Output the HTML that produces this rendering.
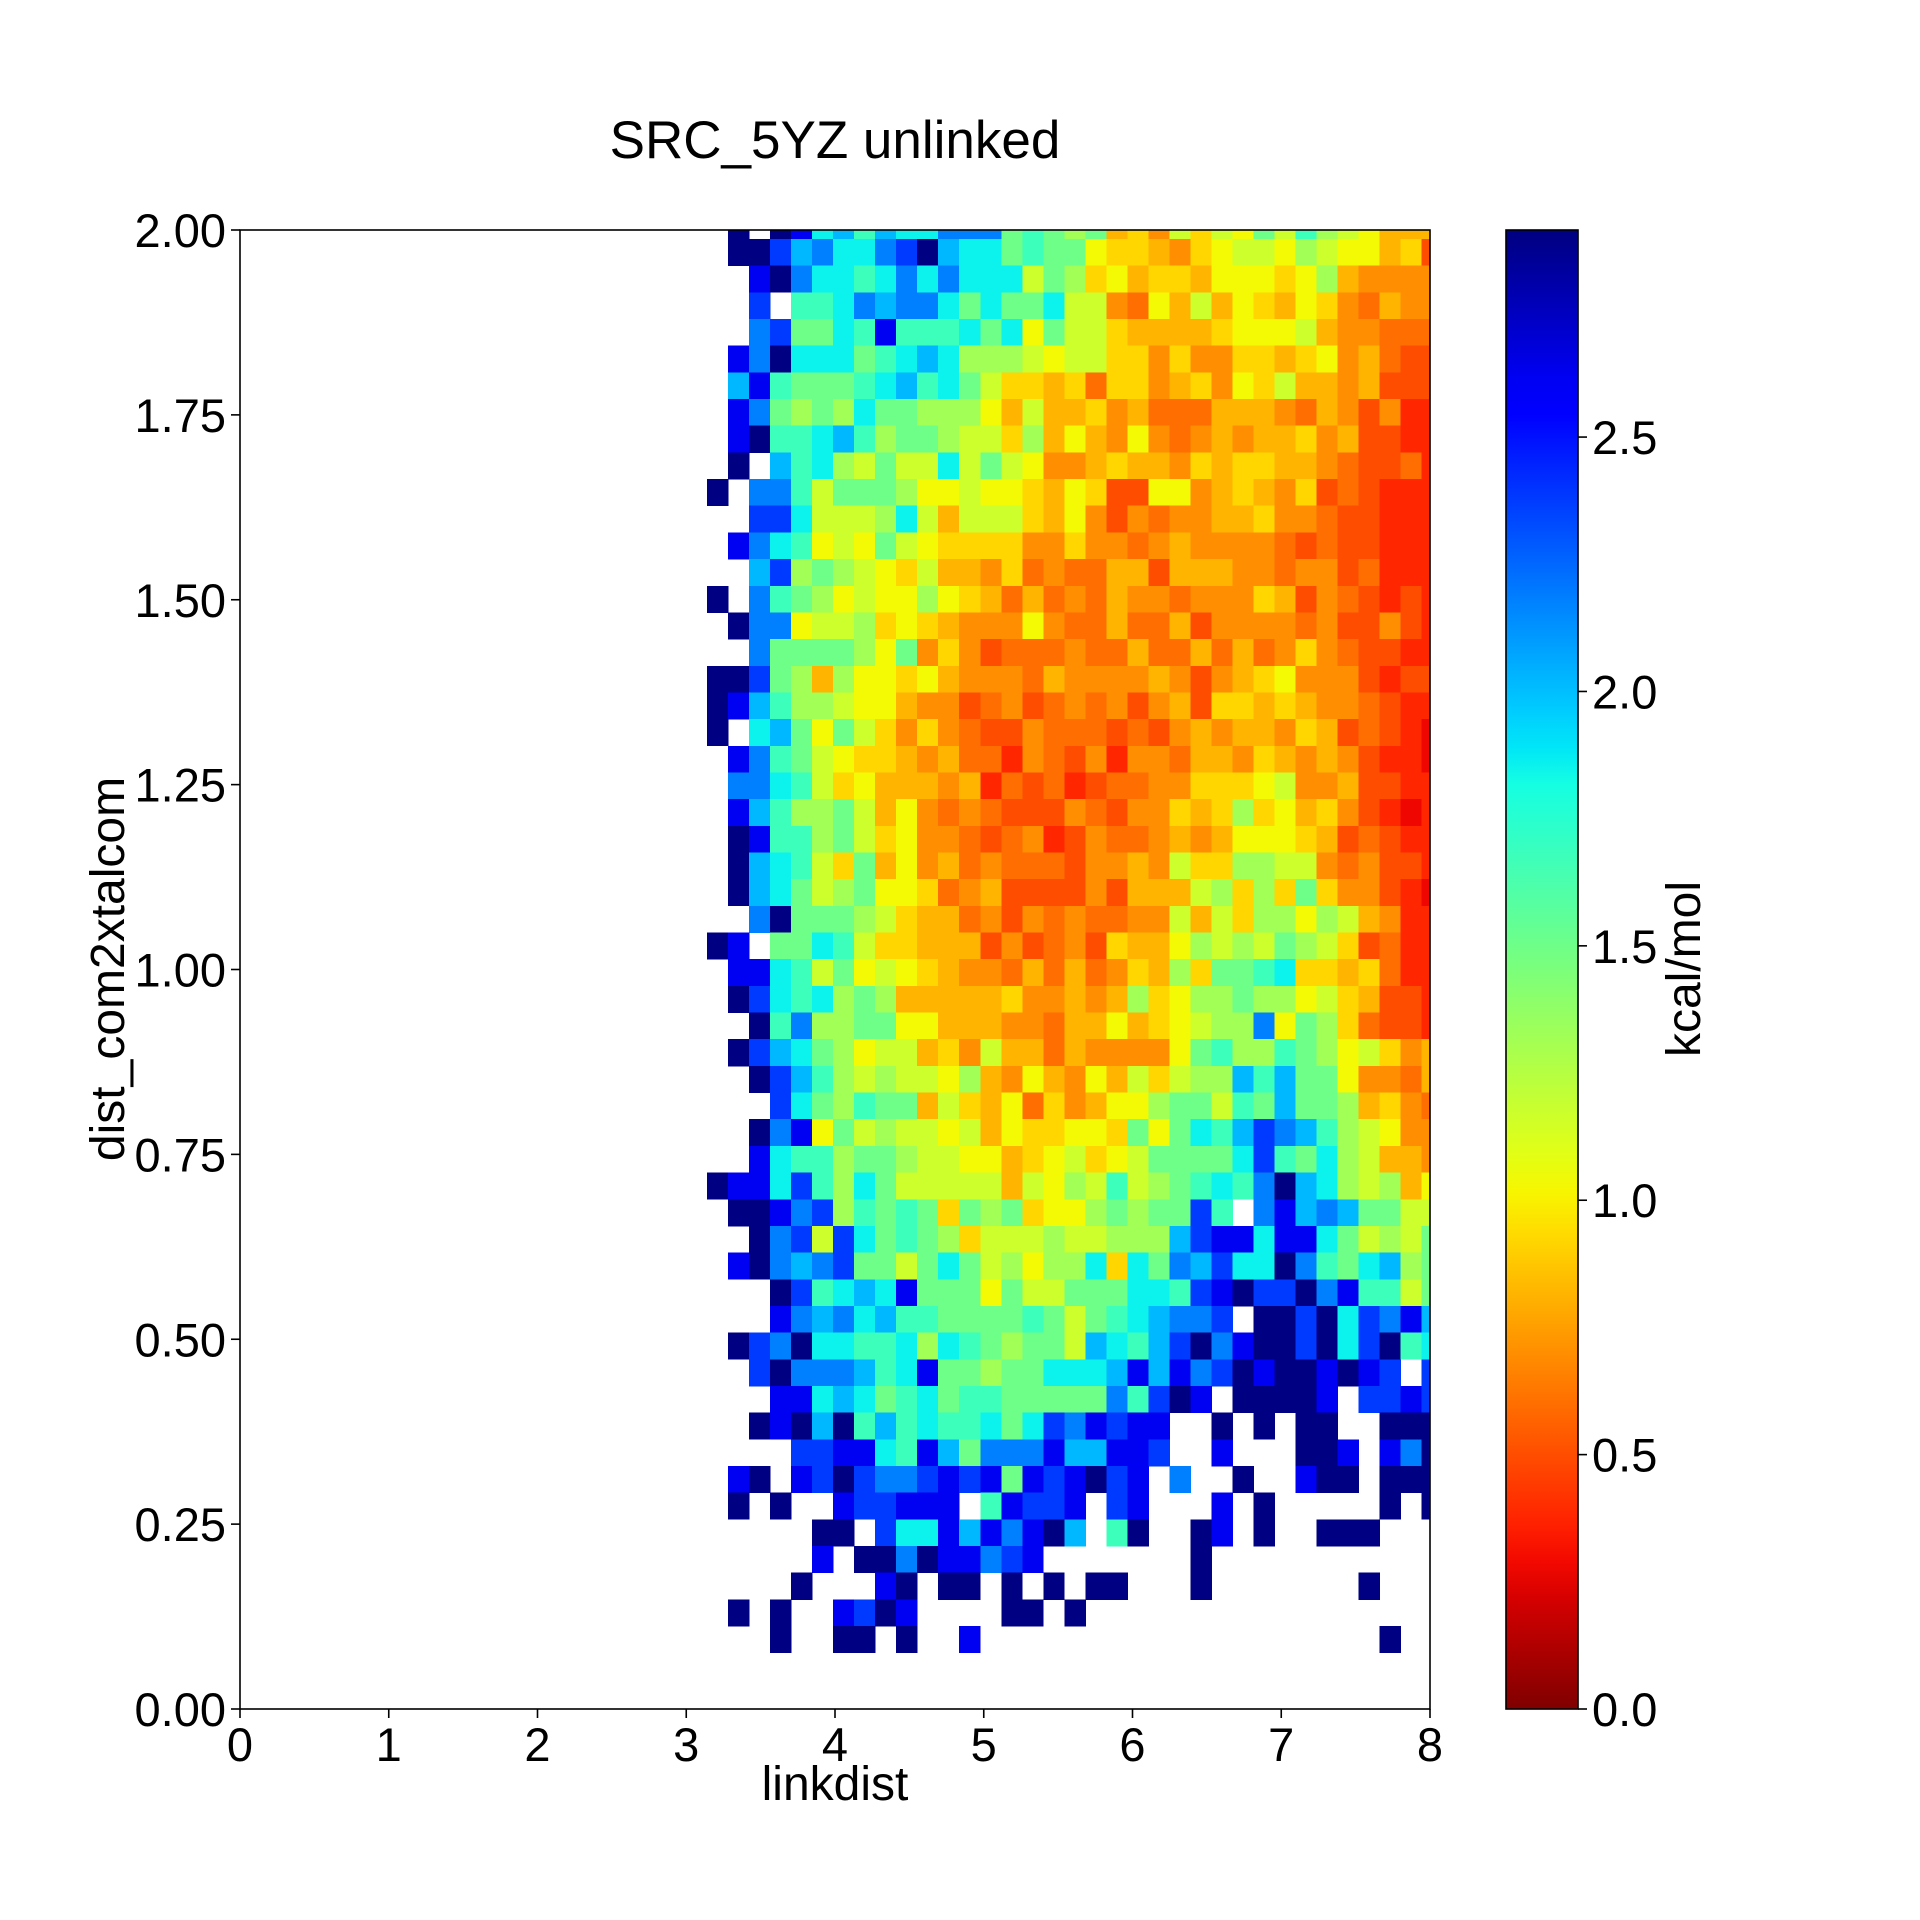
<!DOCTYPE html>
<html><head><meta charset="utf-8"><title>SRC_5YZ unlinked</title>
<style>
html,body{margin:0;padding:0;background:#fff;}
svg{display:block;font-family:"Liberation Sans","DejaVu Sans",sans-serif;}
</style></head>
<body>
<svg id="chart" xmlns="http://www.w3.org/2000/svg" width="1920" height="1920" viewBox="0 0 1920 1920">
<rect x="0" y="0" width="1920" height="1920" fill="#fff"/>
<text x="835" y="158" font-size="53" text-anchor="middle">SRC_5YZ unlinked</text>
<g id="cells" shape-rendering="crispEdges"></g>
<rect x="240" y="230" width="1190" height="1479" fill="none" stroke="#000" stroke-width="1.6"/>
<g id="xticks"></g>
<g id="yticks"></g>
<text x="835" y="1800" font-size="48" text-anchor="middle">linkdist</text>
<text x="0" y="0" font-size="48" text-anchor="middle" transform="translate(124,969) rotate(-90)">dist_com2xtalcom</text>
<defs><linearGradient id="cbgrad" x1="0" y1="1" x2="0" y2="0"></linearGradient></defs>
<rect x="1506" y="230" width="72" height="1479" fill="url(#cbgrad)"/>
<rect x="1506" y="230" width="72" height="1479" fill="none" stroke="#000" stroke-width="1.6"/>
<g id="cbticks"></g>
<text x="0" y="0" font-size="48" text-anchor="middle" transform="translate(1700,969) rotate(-90)">kcal/mol</text>
</svg>
<script>
// ---- data ----
const levelChars = ['N','B','b','c','C','t','g','G','l','y','Y','o','O','a','r','R','e','d'];
const levelValues = [2.9,2.62,2.38,2.18,2.02,1.85,1.68,1.5,1.32,1.17,1.03,0.92,0.82,0.7,0.6,0.5,0.38,0.28];
const xBinStart = 3.1395;
const xBinWidth = 0.14131;
const yBinTop = 2.0239;
const yBinHeight = 0.03607;
const rows = [
".N.NBtCgCttcccGgGlGOoayoyYGyglyYOOO",
".NNbCcttcbNCttGgGGYooOaoYyyYlyYYOoR",
"..BNcttgtctctttyGloYOooOYYYoYlOaaaa",
"..b.ggtcCcctGtGGtyyarYOyOYoOYoarOaa",
"..cbGGtgBgggtGtYGyyoOOOOoYYYyOaarrr",
".BcNtttGgtCtlllyYyyooaoaaooOoYaOrRR",
".CBgGGGgtCgtGyooOorooaOoaYoyOOaORRR",
".BcGlGltGGlllYOyOOoaOrrrOOOarOaRaee",
".BNggtCglGGlyyolOYOaYaraOaOOoaORRee",
".N.CgtlyGyytyGyYaaOoOOaoOooOOarRRre",
"N.ccgyGGGlYYyYYoOYoRRYYaOoOaoRrReee",
"..bbtyyyltyOyyyoOYaRaraaOOoaarRReee",
".BctgYyYGyYooooaaoaaraOaaaarRrRReee",
"..CblGlyYoyOOaorarrOOROOOaaraaRreee",
"N.cgGlYyYYlYoOrOrarOaaraaaoORarReRe",
".NccYyyloYoOaaaYarrOrrORaaaaraRRaRe",
"..cGGGGlYGaoaRrrrarrOrrOrOraoarRRee",
"NNbGlOlYYoYOaaarOaaaaOaRaOoYaaaReRR",
"NBCgllyYYOaaRraRraraRaORooOoOaarRee",
"N.tCGYGyoaoarRRarrrRrRaOaOOaoORrRed",
".BcgGyYooOaOrrearRaeaarOOaoOaOaReed",
".cctgyoYOOOaOerRreRrraaoooYyaaORRee",
".BCgllGyOYararRRRarRaaoOoloYOoaRede",
".NBgglGyoYaarRraeRarraOaOYYYoORrRee",
".NCtgyoGOYaOrarrrRaaOayoollyyaraRRe",
".NCtGylGYYoraORRRRaROOOyloloGoaaRed",
"..cNGGGlyoOOraRararraayOyollYlyOaee",
"NB.GGtgyooOOORaRraRoOOYlylyGlyoRree",
".BBtgyGYyYoOaarOrOraoOloGGgtooOoree",
".NbtgtlGlOOOOOoaaOaOloYllGllYyoORRe",
"..NgcllGGYYOOOaarOOYOoYyllcYGlorRRe",
".NbCtGlYyyOoayOOrOaaaaYGgllgGlYyoaO",
"..NbCglylyyYlOaYOaYOyoyllCgCGGYaarO",
"...btGlgGGOyoOYroaOYYlGGygGCGGlOoar",
"..NcBYGylyyYyOYooYYoGYGtgCbcCglyYaa",
"..BtgglGGlyyYYOoYyoYyGGGGtbgGtlyOOa",
"NBBtbgltGyyyyyOyYlygylGgtgcNCtlylOY",
".NNBcblgGgGoGlGoYYlGlGGbg.cBCcCGGyy",
"..NcbybtGgGloyyylyylllCbBBtBBtGylyG",
".BNcCcbGGyGtGylYlltotGcCbttNcgGtClG",
"...NbgtCtBGGGYGyyGGGttgbBNbbNcBggyG",
"...BcCctCggGGGGgGyGgtCccb.NNbNtbcBC",
".NbcNttggtltgGlGGyCtgCbNcBNNbNtbNgt",
"..bNcccCgtBGGlGGtttCBCBcbNBNNBNBb.b",
"...BBtCtGgtGggGGGGGcgbNB.NNNNB.bbBb",
"..NBNCNgCgtggtGtbcBbBB..N.N.NN..NNN",
"....bbBBtgBCGcccBCCBBb..B...NNB.BcN",
".BN.BbNbccbBbBGBbBNbB.c..N..BNN.NNN",
".N.N..BbbBBB.gBbbB.bB...B.N.....N.N",
".....NN.bttBCBcBNC.gN..NB.N..NNN...",
".....B.NNcNBBcbB.......N...........",
"....N...BN.NN.N.N.NN...N.......N...",
".N.N..BbNB....NN.N.................",
"...N..NN.N..B...................N.."
];
const xTickValues = [0,1,2,3,4,5,6,7,8];
const yTickValues = [0,0.25,0.5,0.75,1.0,1.25,1.5,1.75,2.0];
const yTickLabels = ["0.00","0.25","0.50","0.75","1.00","1.25","1.50","1.75","2.00"];
const cbTickValues = [0,0.5,1.0,1.5,2.0,2.5];
const cbTickLabels = ["0.0","0.5","1.0","1.5","2.0","2.5"];
const vmin = 0, vmax = 2.907;

// ---- scales ----
const PX0 = 240, PX1 = 1430, PY0 = 1709, PY1 = 230;
const XMIN = 0, XMAX = 8, YMIN = 0, YMAX = 2;
function xScale(v){ return PX0 + (v - XMIN) / (XMAX - XMIN) * (PX1 - PX0); }
function yScale(v){ return PY0 - (v - YMIN) / (YMAX - YMIN) * (PY0 - PY1); }
function cbScale(v){ return 1709 - (v - vmin) / (vmax - vmin) * 1479; }

function interp(pts, t){
  for (let i = 1; i < pts.length; i++){
    if (t <= pts[i][0]){
      const a = pts[i-1], b = pts[i];
      return a[1] + (b[1]-a[1]) * (t - a[0]) / (b[0] - a[0]);
    }
  }
  return pts[pts.length-1][1];
}
const JR = [[0,0],[0.35,0],[0.66,1],[0.89,1],[1,0.5]];
const JG = [[0,0],[0.125,0],[0.375,1],[0.64,1],[0.91,0],[1,0]];
const JB = [[0,0.5],[0.11,1],[0.34,1],[0.65,0],[1,0]];
function jetR(v){
  let t = 1 - (v - vmin) / (vmax - vmin);
  t = Math.max(0, Math.min(1, t));
  const r = Math.round(255*interp(JR,t)), g = Math.round(255*interp(JG,t)), b = Math.round(255*interp(JB,t));
  return 'rgb(' + r + ',' + g + ',' + b + ')';
}
const NS = 'http://www.w3.org/2000/svg';
function mk(tag, attrs){ const e = document.createElementNS(NS, tag); for (const k in attrs) e.setAttribute(k, attrs[k]); return e; }

// ---- cells ----
const cellsG = document.getElementById('cells');
rows.forEach(function(rowStr, i){
  for (let j = 0; j < rowStr.length; j++){
    const ch = rowStr[j];
    const li = levelChars.indexOf(ch);
    if (li < 0) continue;
    const v = levelValues[li];
    const x0 = xBinStart + j * xBinWidth;
    const x1 = Math.min(XMAX, x0 + xBinWidth);
    const yt = Math.min(YMAX, yBinTop - i * yBinHeight);
    const yb = Math.max(YMIN, yBinTop - (i + 1) * yBinHeight);
    const r = mk('rect', {x: xScale(x0), y: yScale(yt), width: xScale(x1) - xScale(x0) + 0.4, height: yScale(yb) - yScale(yt) + 0.4, fill: jetR(v)});
    
    
    cellsG.appendChild(r);
  }
});

// ---- axes ----
const xg = document.getElementById('xticks');
xTickValues.forEach(function(v){
  const x = xScale(v);
  const tk = mk('line', {x1:x, x2:x, y1:PY0, y2:PY0+9, stroke:'#000', 'stroke-width':1.6});
  
  
  xg.appendChild(tk);
  const t = mk('text', {x:x, y:PY0+52, 'font-size':47, 'text-anchor':'middle'});
  
  
  t.textContent = String(v);
  xg.appendChild(t);
});
const yg = document.getElementById('yticks');
yTickValues.forEach(function(v, k){
  const y = yScale(v);
  const tk = mk('line', {x1:PX0-9, x2:PX0, y1:y, y2:y, stroke:'#000', 'stroke-width':1.6});
  
  
  yg.appendChild(tk);
  const t = mk('text', {x:PX0-14, y:y+17, 'font-size':47, 'text-anchor':'end'});
  
  
  t.textContent = yTickLabels[k];
  yg.appendChild(t);
});

// ---- colorbar ----
const grad = document.getElementById('cbgrad');
for (let s = 0; s <= 40; s++){
  const v = vmin + (vmax - vmin) * s / 40;
  grad.appendChild(mk('stop', {offset: (s/40).toFixed(4), 'stop-color': jetR(v)}));
}
const cg = document.getElementById('cbticks');
cbTickValues.forEach(function(v, k){
  const y = cbScale(v);
  const tk = mk('line', {x1:1578, x2:1587, y1:y, y2:y, stroke:'#000', 'stroke-width':1.6});
  
  
  cg.appendChild(tk);
  const t = mk('text', {x:1592, y:y+17, 'font-size':47, 'text-anchor':'start'});
  
  
  t.textContent = cbTickLabels[k];
  cg.appendChild(t);
});
</script>
</body></html>
